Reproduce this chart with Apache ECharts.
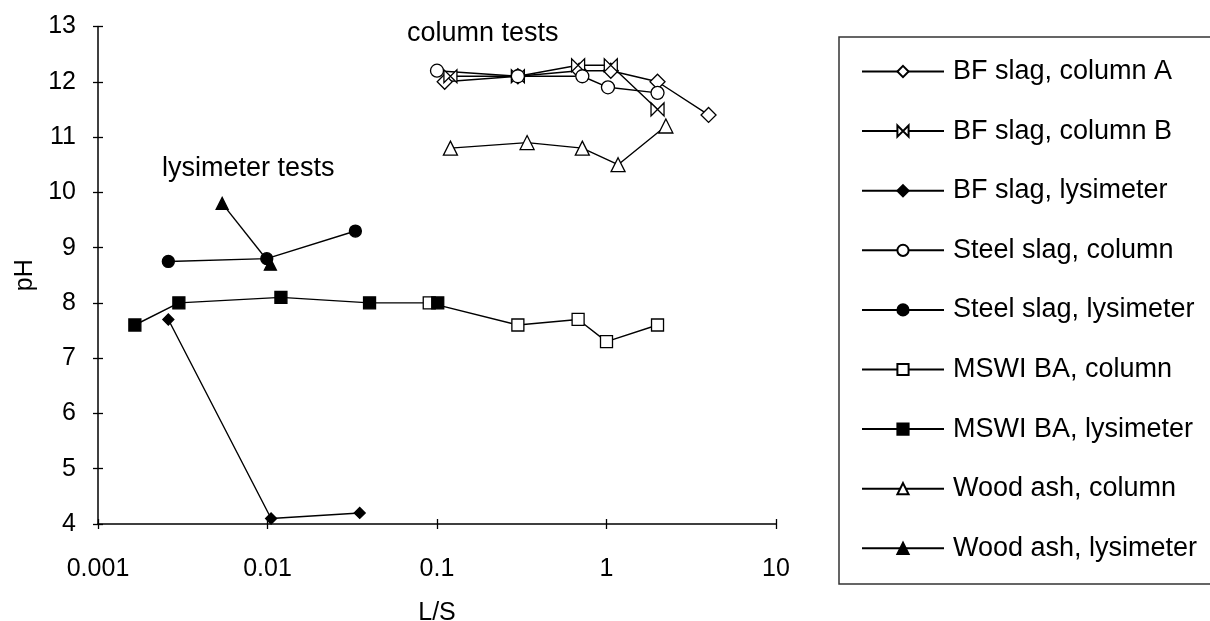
<!DOCTYPE html>
<html>
<head>
<meta charset="UTF-8">
<title>pH vs L/S</title>
<script src="https://cdn.jsdelivr.net/npm/echarts@6/dist/echarts.min.js"></script>
<style>
  html, body { margin: 0; padding: 0; background: #fff; }
  #main { width: 1210px; height: 621px; }
</style>
</head>
<body>
<div id="main"></div>
<script>
// L/S and pH pairs
var bfColA = [[0.111, 12.0], [0.3, 12.1], [0.69, 12.2], [1.06, 12.2], [2.0, 12.0], [4.0, 11.4]];
var bfColB = [[0.12, 12.1], [0.3, 12.1], [0.68, 12.3], [1.06, 12.3], [2.0, 11.5]];
var bfLys = [[0.0026, 7.7], [0.0105, 4.1], [0.035, 4.2]];
var steelCol = [[0.1, 12.2], [0.3, 12.1], [0.72, 12.1], [1.02, 11.9], [2.0, 11.8]];
var steelLys = [[0.0026, 8.75], [0.0099, 8.8], [0.033, 9.3]];
var mswiCol = [[0.09, 8.0], [0.3, 7.6], [0.68, 7.7], [1.0, 7.3], [2.0, 7.6]];
var mswiLys = [[0.00165, 7.6], [0.003, 8.0], [0.012, 8.1], [0.04, 8.0], [0.101, 8.0]];
var woodCol = [[0.12, 10.8], [0.34, 10.9], [0.72, 10.8], [1.17, 10.5], [2.24, 11.2]];
var woodLys = [[0.0054, 9.8], [0.0104, 8.7]];

var names = ['BF slag, column A', 'BF slag, column B', 'BF slag, lysimeter',
  'Steel slag, column', 'Steel slag, lysimeter', 'MSWI BA, column',
  'MSWI BA, lysimeter', 'Wood ash, column', 'Wood ash, lysimeter'];

var FONT = "'Liberation Sans', Arial, sans-serif";
var bowtie = 'path://M0,0L0,10L10,0L10,10Z';

function mk(name, data, symbol, size, filled) {
  return {
    name: name,
    type: 'line',
    data: data,
    symbol: symbol,
    symbolSize: size,
    showAllSymbol: true,
    animation: false,
    lineStyle: { color: '#000', width: 1.4 },
    itemStyle: { color: filled ? '#000' : '#fff', borderColor: '#000', borderWidth: 1.3 },
    z: 3
  };
}

var myChart = echarts.init(document.getElementById('main'));

var option = {
  backgroundColor: '#fff',
  animation: false,
  grid: { left: 98, right: 434, top: 26.5, bottom: 97, outerBoundsMode: 'none', containLabel: false },
  xAxis: [{
    type: 'log', logBase: 10, min: 0.001, max: 10,
    name: 'L/S', nameLocation: 'middle', nameGap: 77,
    nameTextStyle: { fontFamily: FONT, fontSize: 25, color: '#000' },
    axisLine: { lineStyle: { color: '#000', width: 1.5 } },
    axisTick: { inside: false, length: 5, lineStyle: { color: '#000', width: 1.3 } },
    axisLabel: {
      fontFamily: FONT, fontSize: 25, color: '#000', margin: 33,
      formatter: function (v) { return String(+v.toPrecision(6)); }
    },
    splitLine: { show: false }, minorTick: { show: false }
  }, {
    type: 'log', logBase: 10, min: 0.001, max: 10, position: 'bottom',
    axisLine: { show: false },
    axisTick: { inside: true, length: 5, lineStyle: { color: '#000', width: 1.3 } },
    axisLabel: { show: false }, splitLine: { show: false }
  }],
  yAxis: [{
    type: 'value', min: 4, max: 13, interval: 1,
    name: 'pH', nameLocation: 'middle', nameGap: 58, nameRotate: 90,
    nameTextStyle: { fontFamily: FONT, fontSize: 25, color: '#000' },
    axisLine: { show: true, lineStyle: { color: '#000', width: 1.5 } },
    axisTick: { show: true, inside: false, length: 5, lineStyle: { color: '#000', width: 1.3 } },
    axisLabel: { fontFamily: FONT, fontSize: 25, color: '#000', margin: 22 },
    splitLine: { show: false }
  }, {
    type: 'value', min: 4, max: 13, interval: 1, position: 'left',
    axisLine: { show: false },
    axisTick: { show: true, inside: true, length: 5, lineStyle: { color: '#000', width: 1.3 } },
    axisLabel: { show: false }, splitLine: { show: false }
  }],
  legend: {
    orient: 'vertical',
    left: 856, top: 53,
    data: names,
    itemWidth: 82, itemHeight: 14,
    itemGap: 32.6,
    selectedMode: false,
    textStyle: { fontFamily: FONT, fontSize: 27, color: '#000', lineHeight: 27, padding: [0, 0, 0, 4] }
  },
  graphic: [
    { type: 'rect', shape: { x: 839, y: 37, width: 400, height: 547 },
      style: { fill: 'none', stroke: '#333', lineWidth: 1.5 }, z: 0 },
    { type: 'text', left: 407, top: 20,
      style: { text: 'column tests', font: '27px ' + FONT, fill: '#000' } },
    { type: 'text', left: 162, top: 155,
      style: { text: 'lysimeter tests', font: '27px ' + FONT, fill: '#000' } }
  ],
  series: [
    mk(names[0], bfColA, 'diamond', 15, false),
    mk(names[1], bfColB, bowtie, 13, false),
    mk(names[2], bfLys, 'diamond', 11, true),
    mk(names[3], steelCol, 'circle', 13, false),
    mk(names[4], steelLys, 'circle', 12, true),
    mk(names[5], mswiCol, 'rect', 12, false),
    mk(names[6], mswiLys, 'rect', 12, true),
    mk(names[7], woodCol, 'triangle', 14, false),
    mk(names[8], woodLys, 'triangle', 12, true)
  ]
};

myChart.setOption(option);
</script>
</body>
</html>
